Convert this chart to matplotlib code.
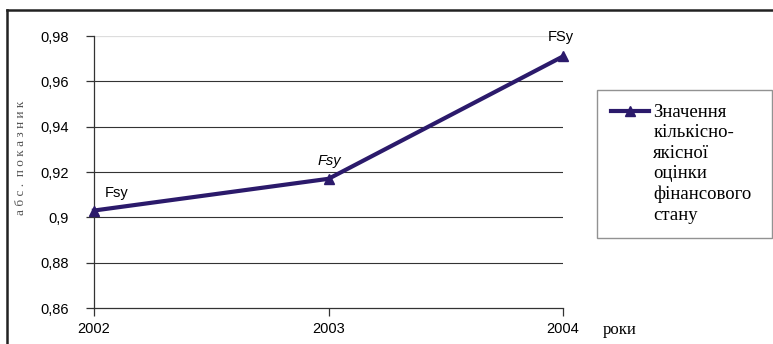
import matplotlib.pyplot as plt
from matplotlib.lines import Line2D
from matplotlib.legend_handler import HandlerLine2D

years = [2002, 2003, 2004]
values = [0.903, 0.917, 0.971]
point_labels = ['Fsy', 'Fsy', 'FSy']
y_ticks = [0.86, 0.88, 0.90, 0.92, 0.94, 0.96, 0.98]
y_tick_labels = ['0,86', '0,88', '0,9', '0,92', '0,94', '0,96', '0,98']
legend_label = 'Значення\nкількісно-\nякісної\nоцінки\nфінансового\nстану'


class TopHandler(HandlerLine2D):
    # маркер легенди на рівні першого рядка тексту
    def __init__(self, shift, **kw):
        super().__init__(**kw)
        self.shift = shift

    def create_artists(self, legend, orig_handle, xdescent, ydescent, width, height,
                       fontsize, trans):
        arts = super().create_artists(legend, orig_handle, xdescent, ydescent, width,
                                      height, fontsize, trans)
        for a in arts:
            a.set_ydata([y + self.shift for y in a.get_ydata()])
        return arts


W, H = 773, 344
fig = plt.figure(figsize=(W / 100, H / 100), dpi=100)

# рамка навколо всього малюнка (тільки зверху і зліва видно)
fig.add_artist(Line2D([7 / W, 7 / W], [0, 1 - 10 / H], color='#222222', lw=1.8))
fig.add_artist(Line2D([7 / W, 1], [1 - 10 / H, 1 - 10 / H], color='#222222', lw=1.8))

ax = fig.add_axes([94 / W, 36 / H, (563 - 94) / W, (308 - 36) / H])
line_color = '#2b1a6b'
ln, = ax.plot(years, values, color=line_color, lw=3.0, marker='^', markersize=6.5,
              label=legend_label, clip_on=False, zorder=5)

ax.set_xlim(2002, 2004)
ax.set_ylim(0.86, 0.98)
ax.set_xticks(years)
ax.set_xticklabels([str(y) for y in years])
ax.set_yticks(y_ticks)
ax.set_yticklabels(y_tick_labels)

for sp in ['top', 'right']:
    ax.spines[sp].set_visible(False)
for sp in ['left', 'bottom']:
    ax.spines[sp].set_color('#333333')
    ax.spines[sp].set_linewidth(0.9)

for t in y_ticks[1:-1]:
    ax.axhline(t, color='#333333', lw=0.8, zorder=1)
ax.axhline(0.98, color='#dddddd', lw=0.9, zorder=1)

ax.tick_params(axis='both', direction='out', length=6, width=0.9, color='#333333',
               labelsize=10.5)
ax.tick_params(axis='y', pad=12)
ax.tick_params(axis='x', pad=4)
for lbl in ax.get_xticklabels() + ax.get_yticklabels():
    lbl.set_family('Liberation Sans')

# підписи точок
ax.annotate(point_labels[0], (years[0], values[0]), xytext=(8, 10), textcoords='offset points',
            fontsize=10.5, family='Liberation Sans')
ax.annotate(point_labels[1], (years[1], values[1]), xytext=(-8, 10), textcoords='offset points',
            fontsize=10.5, family='Liberation Sans', style='italic')
ax.annotate(point_labels[2], (years[2], values[2]), xytext=(-11, 11), textcoords='offset points',
            fontsize=10.5, family='Liberation Sans')

fig.text(21 / W, 1 - 158 / H, 'а б с .  п о к а з н и к', rotation=90, ha='center', va='center',
         fontsize=9.5, family='Liberation Serif', color='#555555')
fig.text(603 / W, 1 - 330 / H, 'роки', ha='left', va='center',
         fontsize=12, family='Liberation Serif')

fs = 13.5
pitch = 15.1  # крок рядків у пунктах (~21 px)
leg = fig.legend(handles=[ln], loc='upper left',
                 bbox_to_anchor=(597 / W, 1 - 237 / H, 175 / W, 147 / H), mode='expand',
                 frameon=True, fancybox=False, edgecolor='#777777', handlelength=2.0,
                 handletextpad=0.25, borderpad=0.75, borderaxespad=0,
                 prop={'family': 'Liberation Serif', 'size': fs},
                 handler_map={ln: TopHandler(shift=2.5 * pitch)})
leg.get_frame().set_linewidth(1.0)
for t in leg.get_texts():
    t.set_linespacing(1.26)

fig.savefig('out.png', dpi=100)
